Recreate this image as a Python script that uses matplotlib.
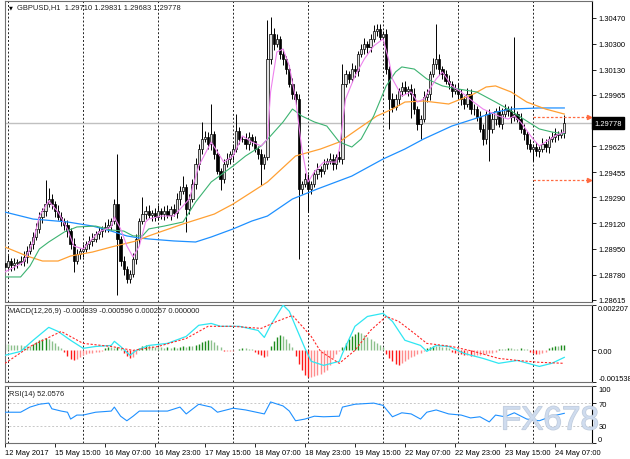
import numpy as np
import matplotlib
matplotlib.use("Agg")
import matplotlib.pyplot as plt
import matplotlib.patheffects as pe
from matplotlib.transforms import blended_transform_factory

plt.rcParams['font.family'] = ['Liberation Sans', 'DejaVu Sans']

# GBPUSD H1, 12 May 23:00 -> 24 May 10:00 (server time), one entry per bar
close = [
    1.28832, 1.28871, 1.28845, 1.28858, 1.28864, 1.28871, 1.28897, 1.28937, 1.28983, 1.29029,
    1.29082, 1.29161, 1.29200, 1.29246, 1.29279, 1.29246, 1.29200, 1.29161, 1.29134, 1.29108,
    1.29068, 1.28983, 1.28871, 1.28917, 1.28937, 1.28950, 1.28983, 1.29003, 1.29016, 1.29049,
    1.29068, 1.29082, 1.29095, 1.29108, 1.29134, 1.29246, 1.29016, 1.28871, 1.28818, 1.28753,
    1.28785, 1.28884, 1.29016, 1.29134, 1.29180, 1.29200, 1.29174, 1.29187, 1.29161, 1.29200,
    1.29180, 1.29200, 1.29174, 1.29213, 1.29187, 1.29279, 1.29332, 1.29358, 1.29213, 1.29279,
    1.29378, 1.29509, 1.29608, 1.29674, 1.29687, 1.29641, 1.29707, 1.29575, 1.29463, 1.29411,
    1.29509, 1.29542, 1.29575, 1.29608, 1.29726, 1.29674, 1.29674, 1.29641, 1.29687, 1.29661,
    1.29608, 1.29575, 1.29509, 1.29555, 1.30200, 1.30365, 1.30299, 1.30332, 1.30233, 1.30200,
    1.30134, 1.30036, 1.29970, 1.29937, 1.29345, 1.29378, 1.29411, 1.29345, 1.29378, 1.29443,
    1.29476, 1.29463, 1.29509, 1.29529, 1.29542, 1.29509, 1.29555, 1.29542, 1.30036, 1.30101,
    1.30069, 1.30134, 1.30121, 1.30233, 1.30266, 1.30299, 1.30279, 1.30332, 1.30384, 1.30398,
    1.30345, 1.30365, 1.30134, 1.29937, 1.29884, 1.29937, 1.29990, 1.30016, 1.29990, 1.30003,
    1.29970, 1.29871, 1.29772, 1.29805, 1.29950, 1.29970, 1.30101, 1.30167, 1.30200, 1.30134,
    1.30101, 1.30055, 1.30036, 1.29990, 1.30003, 1.29970, 1.29937, 1.29904, 1.29970, 1.29871,
    1.29871, 1.29819, 1.29740, 1.29674, 1.29838, 1.29740, 1.29805, 1.29858, 1.29772, 1.29838,
    1.29871, 1.29858, 1.29819, 1.29838, 1.29805, 1.29740, 1.29707, 1.29641, 1.29608, 1.29621,
    1.29595, 1.29608, 1.29641, 1.29621, 1.29674, 1.29687, 1.29707, 1.29700, 1.29710, 1.29778,
]
first_open = 1.28860

# upper / lower shadow beyond the body, in pips
wick_up = [
    3, 4, 2, 3, 2, 3, 4, 3, 2, 3,   4, 3, 2, 16, 7, 3, 2, 4, 3, 2,
    3, 2, 4, 3, 2, 3, 2, 3, 4, 2,   3, 2, 3, 4, 2, 3, 33, 2, 3, 2,
    3, 4, 3, 2, 11, 3, 4, 2, 3, 4,  2, 3, 4, 2, 3, 4, 3, 7, 2, 3,
    3, 4, 3, 11, 4, 3, 20, 2, 3, 2, 3, 4, 2, 3, 11, 3, 2, 4, 3, 2,
    3, 2, 3, 2, 26, 11, 4, 3, 2, 3, 2, 3, 4, 2, 3, 2, 4, 3, 2, 3,
    4, 2, 3, 2, 4, 3, 2, 4, 13, 3,  2, 4, 3, 2, 3, 4, 2, 3, 4, 3,
    3, 2, 3, 2, 4, 3, 2, 3, 4, 2,   3, 4, 2, 3, 4, 3, 2, 4, 23, 3,
    2, 3, 4, 2, 3, 4, 3, 2, 4, 3,   3, 2, 4, 3, 2, 3, 4, 2, 3, 4,
    3, 2, 3, 51, 2, 4, 3, 2, 3, 2,  3, 2, 4, 3, 2, 3, 4, 2, 3, 5.3,
]
wick_dn = [
    3, 2, 4, 3, 3, 2, 3, 4, 2, 3,   2, 3, 4, 3, 2, 3, 4, 2, 3, 3,
    4, 3, 7, 2, 3, 4, 2, 3, 3, 2,   3, 4, 2, 3, 3, 2, 37, 3, 4, 3,
    3, 2, 3, 4, 2, 3, 2, 4, 3, 2,   3, 4, 2, 3, 2, 3, 4, 2, 15, 3,
    2, 3, 4, 3, 2, 3, 4, 3, 2, 7,   3, 2, 3, 4, 2, 3, 2, 3, 4, 3,
    2, 3, 14, 3, 2, 3, 4, 2, 3, 4,  3, 2, 3, 4, 46, 3, 2, 15, 3, 2,
    3, 4, 2, 3, 2, 4, 3, 2, 3, 2,   3, 2, 4, 3, 2, 3, 4, 3, 2, 3,
    2, 4, 3, 20, 3, 2, 4, 3, 2, 3,  16, 3, 4, 10, 2, 3, 4, 2, 3, 4,
    3, 2, 3, 4, 2, 3, 4, 3, 2, 3,   4, 3, 2, 4, 3, 21, 3, 4, 2, 3,
    2, 3, 4, 3, 2, 3, 4, 3, 2, 8,   3, 4, 2, 3, 4, 2, 3, 3, 2, 2.7,
]

# moving averages, read at sample bars
ma_fast_i = [0, 6, 9, 11, 14, 17, 20, 22, 25, 27, 30, 34, 35, 37, 39, 41, 43, 45, 46, 50, 54, 59, 62,
             66, 70, 73, 76, 79, 82, 84, 85, 87, 89, 91, 93, 95, 97, 99, 102, 106, 107, 109, 112,
             115, 118, 121, 123, 124, 127, 130, 132, 134, 138, 140, 143, 146, 150, 153, 158, 161,
             163, 165, 169, 171, 173, 176, 179]
ma_fast = [1.28799, 1.28864, 1.28996, 1.29167, 1.29266, 1.29193, 1.29082, 1.28970, 1.28950, 1.28996,
           1.29062, 1.29095, 1.29161, 1.29082, 1.28970, 1.28897, 1.28970, 1.29128, 1.29147, 1.29167,
           1.29167, 1.29279, 1.29496, 1.29654, 1.29522, 1.29562, 1.29694, 1.29654, 1.29628, 1.29674,
           1.29983, 1.30246, 1.30266, 1.30154, 1.29937, 1.29608, 1.29391, 1.29457, 1.29522, 1.29522,
           1.29608, 1.29937, 1.30088, 1.30200, 1.30286, 1.30332, 1.30180, 1.30069, 1.29957, 1.29983,
           1.29917, 1.29937, 1.30069, 1.30115, 1.30023, 1.29983, 1.29917, 1.29871, 1.29825, 1.29805,
           1.29825, 1.29786, 1.29674, 1.29628, 1.29654, 1.29694, 1.29720]

ma_green_i = [0, 5, 8, 11, 14, 19, 23, 29, 34, 38, 41, 44, 46, 51, 57, 61, 66, 73, 77, 82, 85, 89, 92,
              95, 99, 103, 107, 111, 114, 118, 122, 125, 127, 131, 135, 140, 145, 151, 157, 161, 166,
              171, 175, 179]
ma_green = [1.28766, 1.28766, 1.28838, 1.28950, 1.28996, 1.29062, 1.29095, 1.29101, 1.29075, 1.29068,
            1.29036, 1.29036, 1.29082, 1.29101, 1.29128, 1.29259, 1.29391, 1.29496, 1.29562, 1.29628,
            1.29694, 1.29786, 1.29871, 1.29825, 1.29786, 1.29759, 1.29654, 1.29621, 1.29674, 1.29825,
            1.30023, 1.30115, 1.30148, 1.30134, 1.30069, 1.30023, 1.30003, 1.29983, 1.29917, 1.29871,
            1.29805, 1.29740, 1.29720, 1.29707]

ma_orange_i = [0, 7, 12, 17, 21, 28, 34, 38, 42, 46, 57, 67, 73, 79, 84, 93, 101, 107, 113, 119, 124,
               128, 134, 142, 150, 154, 157, 162, 167, 173, 179]
ma_orange = [1.28963, 1.28904, 1.28871, 1.28871, 1.28904, 1.28930, 1.28963, 1.28983, 1.29003, 1.29036,
             1.29115, 1.29180, 1.29246, 1.29325, 1.29391, 1.29562, 1.29608, 1.29654, 1.29740, 1.29825,
             1.29871, 1.29917, 1.29924, 1.29904, 1.29970, 1.30016, 1.30023, 1.29983, 1.29917, 1.29871,
             1.29838]

ma_blue_i = [0, 9, 20, 28, 34, 39, 43, 46, 54, 61, 66, 73, 79, 84, 92, 100, 111, 121, 128, 134, 143,
             150, 157, 162, 171, 179]
ma_blue = [1.29193, 1.29147, 1.29128, 1.29101, 1.29068, 1.29036, 1.29022, 1.29016, 1.29003, 1.28996,
           1.29029, 1.29082, 1.29134, 1.29167, 1.29279, 1.29345, 1.29430, 1.29542, 1.29608, 1.29674,
           1.29759, 1.29805, 1.29851, 1.29871, 1.29878, 1.29878]

last_price = 1.29778
level_prices = [1.29819, 1.29404]
level_start = 169
price_ticks = [1.30470, 1.30300, 1.30130, 1.29965, 1.29625, 1.29455, 1.29290, 1.29120, 1.28950, 1.28780, 1.28615]

# MACD(12,26,9): histogram per bar (millionths), lines at sample bars
macd_hist_u = [
    290, 290, 240, 240, 240, 240, 190, 190, 190, 290,   390, 490, 530, 580, 530, 440, 340, 190, 100, -100,
    -290, -440, -490, -440, -340, -240, -190, -150, -150, -100,   -100, -50, 100, 150, 150, 100, 150, 100, -150, -290,
    -390, -340, -190, 100, 190, 240, 240, 190, 150, 150,   150, 100, 150, 100, 150, 100, 150, 190, 150, 190,
    190, 240, 290, 390, 440, 490, 490, 390, 240, 150,   -50, -50, -50, -50, 0, 50, 100, 100, 50, 50,
    -100, -190, -240, -340, -290, 190, 440, 630, 730, 680,   530, 340, 150, -290, -680, -970, -1220, -1310, -1310, -1260,
    -1220, -1170, -1070, -970, -730, -390, -190, -50, 150, 340,   530, 680, 780, 870, 830, 730, 630, 530, 440, 340,
    240, 150, -190, -390, -530, -680, -730, -630, -530, -440,   -340, -290, -190, -150, -50, 100, 150, 190, 190, 190,
    150, 150, 100, -100, -150, -150, -190, -240, -240, -290,   -290, -240, -240, -190, -190, -150, -150, -100, 50, 50,
    50, 100, 100, 50, 50, 100, 50, 50, -100, -150,   -190, -190, -150, -100, 100, 150, 190, 190, 240, 257,
]
macd_i = [0, 5, 9, 14, 17, 21, 25, 29, 34, 35, 37, 40, 42, 46, 52, 58, 62, 66, 69, 75, 81, 83, 85, 89,
          91, 93, 96, 98, 102, 107, 108, 112, 116, 121, 124, 128, 133, 135, 138, 142, 147, 153, 158,
          164, 171, 175, 179]
macd_main = [-0.00024, -0.00005, 0.00049, 0.00112, 0.00092, 0.00049, 0.00010, 0.00019, 0.00024, 0.00044,
             0.00019, -0.00024, 0.00000, 0.00024, 0.00034, 0.00068, 0.00122, 0.00131, 0.00117, 0.00117,
             0.00097, 0.00063, 0.00122, 0.00220, 0.00190, 0.00117, 0.00010, -0.00053, -0.00073, -0.00053,
             -0.00015, 0.00117, 0.00165, 0.00180, 0.00141, 0.00049, 0.00024, -0.00005, 0.00024, 0.00019,
             -0.00015, -0.00039, -0.00063, -0.00049, -0.00078, -0.00063, -0.00034]
signal_i = [0, 8, 18, 25, 34, 41, 49, 58, 65, 73, 82, 87, 92, 98, 101, 107, 112, 117, 122, 126, 131,
            135, 143, 150, 158, 164, 171, 179]
macd_signal = [-0.00063, 0.00019, 0.00092, 0.00034, 0.00019, 0.00000, 0.00019, 0.00058, 0.00117, 0.00117,
               0.00107, 0.00141, 0.00170, 0.00068, -0.00005, -0.00063, 0.00000, 0.00097, 0.00165, 0.00141,
               0.00083, 0.00034, 0.00019, -0.00005, -0.00039, -0.00049, -0.00058, -0.00063]

# RSI(14) at sample bars
rsi_i = [0, 5, 8, 11, 14, 15, 18, 20, 21, 23, 25, 29, 34, 35, 37, 39, 41, 43, 48, 52, 56, 58, 62, 66,
         68, 73, 77, 83, 85, 89, 91, 93, 96, 99, 102, 107, 108, 112, 118, 121, 124, 127, 130, 133,
         135, 138, 142, 146, 149, 152, 155, 157, 160, 163, 167, 171, 175, 179]
rsi = [54, 54, 63, 68, 70, 60, 56, 54, 42, 49, 49, 54, 56, 63, 47, 39, 47, 56, 56, 56, 63, 51, 68, 63,
       54, 61, 58, 51, 72, 65, 56, 39, 42, 47, 46, 47, 63, 68, 70, 66, 46, 53, 51, 42,
       54, 58, 51, 49, 44, 46, 37, 49, 46, 53, 42, 39, 47, 52.0576]

date_ticks = [0, 16, 32, 48, 64, 80, 96, 112, 128, 144, 160, 176]
date_labels = ['12 May 2017', '15 May 15:00', '16 May 07:00', '16 May 23:00', '17 May 15:00',
               '18 May 07:00', '18 May 23:00', '19 May 15:00', '22 May 07:00', '22 May 23:00',
               '23 May 15:00', '24 May 07:00']
day_lines = [1, 25, 49, 73, 97, 121, 145, 169]

W, H = 630, 460
FS = 5.4


def rect(x0, y0, x1, y1):
    return [x0 / W, 1 - y1 / H, (x1 - x0) / W, (y1 - y0) / H]


fig = plt.figure(figsize=(W / 100, H / 100), dpi=100)
fig.patch.set_facecolor('white')
ax = fig.add_axes(rect(5, 2, 592, 303))
ax2 = fig.add_axes(rect(5, 306, 592, 383), sharex=ax)
ax3 = fig.add_axes(rect(5, 387, 592, 444), sharex=ax)

xlim = ((5 - 4.9) / 3.125, (592 - 4.9) / 3.125)

for a in (ax, ax2, ax3):
    a.set_xlim(*xlim)
    for s in a.spines.values():
        s.set_color('#707070')
        s.set_linewidth(0.8)
    a.spines['right'].set_color('black')
    a.yaxis.tick_right()
    a.tick_params(axis='y', length=3, width=0.6, pad=1.5, labelsize=FS, colors='black')
    for d in day_lines:
        a.axvline(d, color='#222222', lw=0.7, linestyle=(0, (2, 2)), zorder=1)

ax.tick_params(axis='x', bottom=False, labelbottom=False)
ax2.tick_params(axis='x', bottom=False, labelbottom=False)

# ---- price panel
c = np.array(close)
o = np.r_[first_open, c[:-1]]
hi = np.maximum(o, c) + np.array(wick_up) * 1e-4
lo = np.minimum(o, c) - np.array(wick_dn) * 1e-4
idx = np.arange(len(c))
bull = c >= o

ax.axhline(last_price, color='#C0C0C0', lw=1, zorder=1.5)
ax.vlines(idx, lo, hi, color='black', lw=0.7, zorder=2)
ax.bar(idx[bull], (c - o)[bull], bottom=o[bull], width=0.72, color='#E0E0E0',
       edgecolor='black', lw=0.5, zorder=3)
ax.bar(idx[~bull], (o - c)[~bull], bottom=c[~bull], width=0.72, color='black',
       edgecolor='black', lw=0.5, zorder=3)

ax.plot(ma_blue_i, ma_blue, color='#1E90FF', lw=0.9, zorder=4)
ax.plot(ma_orange_i, ma_orange, color='#FFA033', lw=0.9, zorder=4)
ax.plot(ma_green_i, ma_green, color='#3CB371', lw=0.8, zorder=4)
ax.plot(ma_fast_i, ma_fast, color='#EE82EE', lw=0.8, zorder=4)

for lv in level_prices:
    ax.hlines(lv, level_start, 186.6, color='#FF6A40', lw=0.9, linestyles=(0, (2, 1.5)), zorder=4)
    ax.plot(186.8, lv, marker='>', ms=3, color='#FF6A40', mec='#FF6A40', zorder=4)

ax.set_ylim(1.30595 - 0.0000658 * 303, 1.30595 - 0.0000658 * 2)
ax.set_yticks(price_ticks)
ax.set_yticklabels([f'{p:.5f}' for p in price_ticks])

tr = blended_transform_factory(ax.transAxes, ax.transData)
ax.text(1.004, last_price, f'{last_price:.5f}', transform=tr, color='white', fontsize=FS,
        va='center', ha='left', clip_on=False,
        bbox=dict(boxstyle='square,pad=0.35', fc='black', ec='black'))

ax.text(0.006, 0.982, '\u25BC', transform=ax.transAxes, fontsize=3.6, va='center', ha='left',
        family='DejaVu Sans')
ax.text(0.02, 0.982, 'GBPUSD,H1  1.29710 1.29831 1.29683 1.29778', transform=ax.transAxes,
        fontsize=FS, va='center', ha='left', color='#202020')

# ---- MACD panel
hist = np.array(macd_hist_u) * 1e-6
prev = np.r_[hist[0] + 1e-6, hist[:-1]]
bar_col = np.where(hist >= 0,
                   np.where(hist > prev, '#1E8C1E', '#8CC08C'),
                   np.where(hist < prev, '#FF1A1A', '#FF8C8C'))
ax2.vlines(idx, 0, hist, colors=bar_col, lw=1.0, zorder=2)
ax2.plot(macd_i, macd_main, color='#2EE6F2', lw=0.9, zorder=3)
ax2.plot(signal_i, macd_signal, color='#FF2A2A', lw=0.8, linestyle=(0, (2, 1.5)), zorder=3)
ax2.set_ylim(-0.001538, 0.002207)
ax2.set_yticks([0.002207, 0.0, -0.001538])
ax2.set_yticklabels(['0.002207', '0.00', '-0.001538'])
tl = ax2.get_yticklabels()
tl[0].set_va('top')
tl[2].set_va('bottom')
ax2.text(0.006, 0.93, 'MACD(12,26,9) -0.000839 -0.000596 0.000257 0.000000', transform=ax2.transAxes,
         fontsize=FS, va='center', ha='left', color='#202020')

# ---- RSI panel
for lv in (70, 30):
    ax3.axhline(lv, color='#C8C8C8', lw=0.7, linestyle=(0, (2, 2)), zorder=1)
ax3.plot(rsi_i, rsi, color='#1E90FF', lw=0.8, zorder=3)
ax3.set_ylim(0, 100)
ax3.set_yticks([100, 70, 30, 0])
ax3.set_yticklabels(['100', '70', '30', '0'])
tl = ax3.get_yticklabels()
tl[0].set_va('top')
tl[3].set_va('bottom')
ax3.text(0.006, 0.86, 'RSI(14) 52.0576', transform=ax3.transAxes, fontsize=FS,
         va='center', ha='left', color='#202020')

ax3.set_xticks(date_ticks)
ax3.set_xticklabels(date_labels)
ax3.tick_params(axis='x', length=3, width=0.6, pad=1.5, labelsize=FS, direction='out')
for t in ax3.get_xticklabels():
    t.set_ha('left')

# watermark
fig.text(550 / W, 1 - 422 / H, 'FX678', fontsize=24, color='#CFDCEF', alpha=0.85,
         ha='center', va='center', family='Liberation Sans',
         path_effects=[pe.withStroke(linewidth=0.9, foreground='#B6C4D6')])

fig.savefig('out.png', dpi=100)
